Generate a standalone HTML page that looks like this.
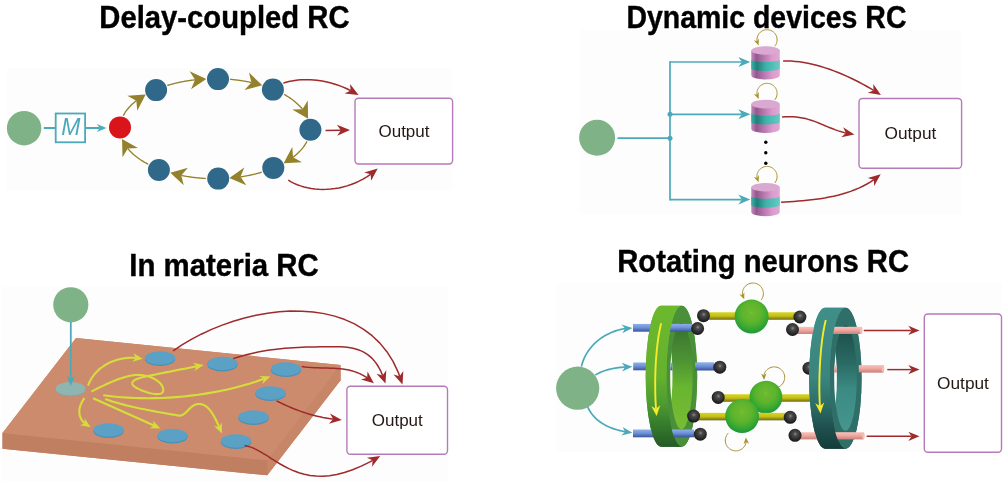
<!DOCTYPE html>
<html><head><meta charset="utf-8"><title>RC</title>
<style>
html,body{margin:0;padding:0;background:#fff;}
body{width:1008px;height:486px;overflow:hidden;}
svg{display:block;will-change:transform;transform:translateZ(0);}
text{font-family:"Liberation Sans",sans-serif;}
.t{font-weight:bold;font-size:31px;fill:#000;stroke:#000;stroke-width:0.4px;}
.o{font-size:17.3px;fill:#231815;}
</style></head><body>
<svg width="1008" height="486" viewBox="0 0 1008 486">
<defs>
<linearGradient id="cylP" x1="0" x2="1" y1="0" y2="0">
<stop offset="0" stop-color="#c68abf"/><stop offset="0.18" stop-color="#93598c"/><stop offset="0.45" stop-color="#b878b0"/><stop offset="0.75" stop-color="#dc9ccd"/><stop offset="1" stop-color="#e2a6d4"/></linearGradient>
<linearGradient id="cylT" x1="0" x2="1" y1="0" y2="0">
<stop offset="0" stop-color="#3bb3aa"/><stop offset="0.2" stop-color="#1f7f78"/><stop offset="0.5" stop-color="#3fb0a8"/><stop offset="0.8" stop-color="#55c2ba"/><stop offset="1" stop-color="#6cc8c2"/></linearGradient>
<linearGradient id="gOut" x1="0" x2="0" y1="0" y2="1">
<stop offset="0" stop-color="#6cb82e"/><stop offset="0.5" stop-color="#65b12e"/><stop offset="0.7" stop-color="#4d9a30"/><stop offset="0.85" stop-color="#347a2c"/><stop offset="1" stop-color="#255a26"/></linearGradient>
<linearGradient id="gIn" x1="0" x2="0" y1="0" y2="1">
<stop offset="0" stop-color="#36702e"/><stop offset="0.35" stop-color="#4d9334"/><stop offset="0.6" stop-color="#68b530"/><stop offset="1" stop-color="#78bc34"/></linearGradient>
<linearGradient id="tOut" x1="0" x2="0" y1="0" y2="1">
<stop offset="0" stop-color="#3f8f88"/><stop offset="0.5" stop-color="#3a857e"/><stop offset="0.7" stop-color="#2c6b66"/><stop offset="0.85" stop-color="#1f504d"/><stop offset="1" stop-color="#143c3a"/></linearGradient>
<linearGradient id="tIn" x1="0" x2="0" y1="0" y2="1">
<stop offset="0" stop-color="#1c4c48"/><stop offset="0.35" stop-color="#2a6963"/><stop offset="0.6" stop-color="#3b8a83"/><stop offset="1" stop-color="#45968e"/></linearGradient>
<linearGradient id="rodB" x1="0" x2="0" y1="0" y2="1">
<stop offset="0" stop-color="#8fb0e6"/><stop offset="0.45" stop-color="#6f93da"/><stop offset="1" stop-color="#3a549c"/></linearGradient>
<linearGradient id="rodP" x1="0" x2="0" y1="0" y2="1">
<stop offset="0" stop-color="#f8c4bc"/><stop offset="0.45" stop-color="#f0a8a0"/><stop offset="1" stop-color="#c9807a"/></linearGradient>
<linearGradient id="rodY" x1="0" x2="0" y1="0" y2="1">
<stop offset="0" stop-color="#d8d422"/><stop offset="0.5" stop-color="#c4c018"/><stop offset="1" stop-color="#6f6a10"/></linearGradient>
<radialGradient id="sphK" cx="0.52" cy="0.4" r="0.62">
<stop offset="0" stop-color="#8a8a8a"/><stop offset="0.25" stop-color="#4a4a4a"/><stop offset="0.7" stop-color="#2a2a2a"/><stop offset="1" stop-color="#101010"/></radialGradient>
<radialGradient id="sphG" cx="0.5" cy="0.38" r="0.66">
<stop offset="0" stop-color="#7cc23a"/><stop offset="0.08" stop-color="#6cb92f"/><stop offset="0.45" stop-color="#5db42d"/><stop offset="0.7" stop-color="#3aa931"/><stop offset="0.9" stop-color="#209a38"/><stop offset="1" stop-color="#17883a"/></radialGradient>
</defs>

<rect x="7.0" y="68.0" width="445.6" height="122.4" fill="#fdfdfd"/>
<rect x="579.6" y="29.6" width="382.0" height="184.9" fill="#fdfdfd"/>
<rect x="2.0" y="286.4" width="445.8" height="194.6" fill="#fdfdfd"/>
<rect x="556.3" y="282.9" width="445.7" height="169.0" fill="#fdfdfd"/>
<text class="t" x="99.3" y="27.9" textLength="250.3" lengthAdjust="spacingAndGlyphs">Delay-coupled RC</text>
<text class="t" x="626.4" y="27.9" textLength="280.1" lengthAdjust="spacingAndGlyphs">Dynamic devices RC</text>
<text class="t" x="129.3" y="275.9" textLength="189.5" lengthAdjust="spacingAndGlyphs">In materia RC</text>
<text class="t" x="617.3" y="272.0" textLength="291.7" lengthAdjust="spacingAndGlyphs">Rotating neurons RC</text>
<g id="tl">
<circle cx="24.1" cy="128.2" r="17.2" fill="#7fb387"/>
<line x1="43.8" y1="128" x2="55" y2="128" stroke="#4ba9ba" stroke-width="2"/>
<rect x="55.7" y="113.5" width="29.4" height="28.8" fill="#fff" stroke="#4ba9ba" stroke-width="1.8"/>
<text x="70.8" y="135.3" text-anchor="middle" style="font-size:23px;font-style:italic;fill:#4ba9ba">M</text>
<polyline points="86.00,128.00 99.75,128.00" fill="none" stroke="#4ba9ba" stroke-width="2" stroke-linejoin="round"/>
<polygon points="106.40,128.00 96.90,132.00 99.75,128.00 96.90,124.00" fill="#4ba9ba"/>
<polyline points="123.31,115.62 123.58,115.09 123.87,114.57 124.17,114.05 124.47,113.54 124.79,113.02 125.12,112.50 125.46,111.99 125.81,111.48 126.17,110.97 126.54,110.47 126.92,109.96 127.31,109.46 127.72,108.96 128.13,108.46 128.55,107.97 128.98,107.48 129.43,106.99 129.88,106.50 130.34,106.01 130.81,105.53 131.30,105.05 131.79,104.58 132.29,104.10 132.80,103.63 133.33,103.16 133.86,102.70 134.40,102.24 134.95,101.78 135.51,101.32 136.08,100.87 136.35,100.66" fill="none" stroke="#93822b" stroke-width="1.35" stroke-linejoin="round"/>
<polygon points="145.69,94.51 137.28,110.82 136.34,100.67 127.38,95.79" fill="#93822b"/>
<polyline points="167.30,85.46 168.02,85.24 168.76,85.02 169.49,84.81 170.23,84.60 170.98,84.39 171.73,84.19 172.48,83.99 173.23,83.79 173.99,83.60 174.75,83.41 175.51,83.22 176.28,83.04 177.05,82.86 177.82,82.69 178.60,82.52 179.38,82.35 180.16,82.18 180.94,82.02 181.73,81.87 182.52,81.71 183.31,81.56 184.10,81.42 184.90,81.28 185.70,81.14 186.50,81.00 187.30,80.87 188.11,80.74 188.92,80.62 189.73,80.50 190.54,80.39 191.35,80.27 192.17,80.17 192.99,80.06 193.81,79.96 194.63,79.86 195.10,79.81" fill="none" stroke="#93822b" stroke-width="1.35" stroke-linejoin="round"/>
<polygon points="206.26,78.91 191.03,89.17 195.09,79.81 189.59,71.22" fill="#93822b"/>
<polyline points="229.94,79.32 230.67,79.39 231.41,79.45 232.15,79.52 232.88,79.59 233.62,79.67 234.35,79.75 235.08,79.83 235.81,79.91 236.54,80.00 237.27,80.09 238.00,80.19 238.72,80.28 239.45,80.38 240.17,80.49 240.89,80.59 241.61,80.70 242.33,80.81 243.04,80.93 243.76,81.05 244.47,81.17 245.18,81.29 245.89,81.42 246.60,81.55 247.30,81.68 248.00,81.81 248.70,81.95 249.40,82.09 250.10,82.24 250.79,82.38 251.38,82.51" fill="none" stroke="#93822b" stroke-width="1.35" stroke-linejoin="round"/>
<polygon points="262.22,85.32 244.48,90.02 251.38,82.51 248.99,72.60" fill="#93822b"/>
<polyline points="284.02,94.34 284.78,94.77 285.52,95.20 286.26,95.63 286.98,96.07 287.70,96.51 288.41,96.96 289.10,97.41 289.79,97.87 290.47,98.33 291.13,98.79 291.79,99.26 292.43,99.73 293.07,100.21 293.69,100.69 294.31,101.17 294.91,101.66 295.50,102.15 296.08,102.65 296.65,103.14 297.21,103.65 297.76,104.15 298.30,104.66 298.82,105.17 299.34,105.69 299.84,106.20 300.33,106.72 300.81,107.25 301.28,107.78 301.74,108.30 302.18,108.84 302.47,109.19" fill="none" stroke="#93822b" stroke-width="1.35" stroke-linejoin="round"/>
<polygon points="308.12,118.81 292.26,109.58 302.45,109.15 307.77,100.46" fill="#93822b"/>
<polyline points="306.95,141.27 306.68,141.81 306.40,142.34 306.11,142.87 305.80,143.40 305.49,143.93 305.16,144.45 304.83,144.98 304.48,145.50 304.12,146.02 303.75,146.54 303.37,147.05 302.98,147.56 302.58,148.08 302.16,148.58 301.74,149.09 301.31,149.59 300.86,150.09 300.41,150.59 299.94,151.09 299.47,151.58 298.98,152.07 298.49,152.56 297.98,153.04 297.46,153.53 296.94,154.00 296.40,154.48 295.85,154.95 295.30,155.42 294.73,155.89 294.15,156.35 293.57,156.81 293.07,157.19" fill="none" stroke="#93822b" stroke-width="1.35" stroke-linejoin="round"/>
<polygon points="283.67,163.25 292.24,147.02 293.08,157.18 301.99,162.14" fill="#93822b"/>
<polyline points="261.74,172.23 261.09,172.42 260.43,172.61 259.77,172.80 259.11,172.98 258.45,173.16 257.78,173.34 257.11,173.52 256.44,173.69 255.76,173.86 255.09,174.03 254.41,174.20 253.73,174.36 253.04,174.52 252.35,174.67 251.66,174.83 250.97,174.98 250.28,175.12 249.58,175.27 248.88,175.41 248.18,175.55 247.48,175.69 246.78,175.82 246.07,175.95 245.36,176.08 244.65,176.20 243.94,176.32 243.22,176.44 242.51,176.56 241.79,176.67 241.07,176.78 240.51,176.86" fill="none" stroke="#93822b" stroke-width="1.35" stroke-linejoin="round"/>
<polygon points="229.38,178.12 244.26,167.38 240.51,176.86 246.29,185.27" fill="#93822b"/>
<polyline points="205.79,178.46 205.01,178.42 204.24,178.38 203.47,178.33 202.70,178.28 201.93,178.22 201.16,178.17 200.39,178.11 199.62,178.04 198.86,177.97 198.09,177.90 197.33,177.83 196.56,177.75 195.80,177.67 195.04,177.58 194.28,177.50 193.52,177.41 192.77,177.31 192.01,177.21 191.26,177.11 190.51,177.01 189.76,176.90 189.01,176.79 188.26,176.68 187.52,176.56 186.78,176.44 186.04,176.32 185.30,176.19 184.56,176.06 183.82,175.93 183.09,175.80 182.36,175.66 181.63,175.51 181.20,175.43" fill="none" stroke="#93822b" stroke-width="1.35" stroke-linejoin="round"/>
<polygon points="170.31,172.82 187.96,167.79 181.20,175.43 183.77,185.30" fill="#93822b"/>
<polyline points="148.24,164.27 147.42,163.84 146.61,163.40 145.81,162.96 145.02,162.51 144.24,162.06 143.47,161.61 142.71,161.14 141.97,160.68 141.23,160.21 140.51,159.73 139.79,159.25 139.09,158.76 138.40,158.27 137.72,157.78 137.05,157.28 136.39,156.78 135.75,156.27 135.12,155.76 134.49,155.25 133.89,154.73 133.29,154.20 132.70,153.68 132.13,153.15 131.57,152.61 131.02,152.08 130.49,151.53 129.96,150.99 129.45,150.44 128.95,149.89 128.47,149.34 128.00,148.78 127.75,148.48" fill="none" stroke="#93822b" stroke-width="1.35" stroke-linejoin="round"/>
<polygon points="122.01,138.92 137.96,148.00 127.78,148.52 122.53,157.27" fill="#93822b"/>
<circle cx="120.0" cy="127.4" r="11" fill="#d9141a"/>
<circle cx="156.1" cy="90.1" r="11" fill="#2f6888"/>
<circle cx="218.0" cy="79.1" r="11" fill="#2f6888"/>
<circle cx="272.9" cy="89.6" r="11" fill="#2f6888"/>
<circle cx="310.4" cy="129.8" r="11" fill="#2f6888"/>
<circle cx="273.3" cy="167.9" r="11" fill="#2f6888"/>
<circle cx="218.2" cy="178.6" r="11" fill="#2f6888"/>
<circle cx="158.9" cy="170.0" r="11" fill="#2f6888"/>
<polyline points="283.30,83.10 286.05,82.27 288.89,81.56 291.80,80.96 294.77,80.48 297.81,80.11 300.90,79.86 304.04,79.72 307.22,79.70 310.44,79.80 313.68,80.01 316.95,80.33 320.24,80.78 323.53,81.33 326.83,82.01 330.13,82.80 333.41,83.70 336.68,84.72 339.93,85.86 343.15,87.11 346.33,88.47 349.48,89.96 350.70,90.59" fill="none" stroke="#9e2a2b" stroke-width="1.5" stroke-linejoin="round"/>
<polygon points="358.60,95.10 344.61,93.39 350.70,90.59 350.01,83.92" fill="#9e2a2b"/>
<polyline points="325.50,130.60 340.90,130.16" fill="none" stroke="#9e2a2b" stroke-width="1.5" stroke-linejoin="round"/>
<polygon points="350.00,129.90 337.16,135.72 340.90,130.16 336.85,124.82" fill="#9e2a2b"/>
<polyline points="288.30,180.20 291.11,181.85 294.09,183.36 297.24,184.71 300.53,185.90 303.97,186.92 307.53,187.78 311.20,188.46 314.97,188.96 318.82,189.28 322.74,189.41 326.72,189.34 330.75,189.08 334.81,188.60 338.88,187.92 342.96,187.02 347.03,185.90 351.08,184.56 355.10,182.98 359.06,181.17 362.97,179.12 366.80,176.82 370.54,174.27 370.67,174.17" fill="none" stroke="#9e2a2b" stroke-width="1.5" stroke-linejoin="round"/>
<polygon points="377.70,168.40 371.11,180.86 370.67,174.17 364.19,172.44" fill="#9e2a2b"/>
<rect x="355.0" y="98.2" width="97.6" height="65.8" rx="3.5" fill="#fff" stroke="#b57ab8" stroke-width="1.4"/>
<text class="o" x="404.0" y="136.9" text-anchor="middle" style="font-size:17.0px">Output</text>
</g>
<g id="tr">
<circle cx="597.1" cy="137.7" r="18" fill="#7fb387"/>
<line x1="617.5" y1="138.2" x2="670" y2="138.2" stroke="#4ba9ba" stroke-width="1.7"/>
<line x1="670" y1="61.2" x2="670" y2="200.5" stroke="#4ba9ba" stroke-width="1.7"/>
<polyline points="670.00,62.00 741.90,62.00" fill="none" stroke="#4ba9ba" stroke-width="1.7" stroke-linejoin="round"/>
<polygon points="750.30,62.00 738.30,67.00 741.90,62.00 738.30,57.00" fill="#4ba9ba"/>
<polyline points="670.00,114.30 741.90,114.30" fill="none" stroke="#4ba9ba" stroke-width="1.7" stroke-linejoin="round"/>
<polygon points="750.30,114.30 738.30,119.30 741.90,114.30 738.30,109.30" fill="#4ba9ba"/>
<polyline points="670.00,199.60 741.90,199.60" fill="none" stroke="#4ba9ba" stroke-width="1.7" stroke-linejoin="round"/>
<polygon points="750.30,199.60 738.30,204.60 741.90,199.60 738.30,194.60" fill="#4ba9ba"/>
<circle cx="670" cy="114.3" r="2.5" fill="#4ba9ba"/>
<circle cx="670" cy="138.2" r="2.5" fill="#4ba9ba"/>
<polyline points="774.74,46.29 775.41,45.40 775.98,44.43 776.43,43.41 776.77,42.35 777.00,41.25 777.09,40.13 777.07,39.02 776.92,37.91 776.65,36.82 776.26,35.77 775.76,34.77 775.15,33.83 774.44,32.97 773.64,32.19 772.76,31.50 771.80,30.92 770.79,30.44 769.73,30.08 768.64,29.83 767.53,29.71 766.41,29.72 765.30,29.84 764.21,30.09 763.15,30.46 762.14,30.95 761.19,31.54 760.31,32.23 759.52,33.02 758.81,33.88 758.21,34.83 757.71,35.83 757.33,36.88 757.07,37.97 756.93,39.08 756.91,40.20 757.01,41.24" fill="none" stroke="#a8912f" stroke-width="1.0" stroke-linejoin="round"/>
<polygon points="758.63,45.45 753.73,40.37 756.99,41.20 758.86,38.39" fill="#a8912f"/>
<path d="M751.25,50.50 L751.25,75.20 A14.25,4.30 0 0 0 779.75,75.20 L779.75,50.50 Z" fill="url(#cylP)"/>
<path d="M751.25,59.50 A14.25,2.58 0 0 0 779.75,59.50 L779.75,68.40 A14.25,2.58 0 0 1 751.25,68.40 Z" fill="url(#cylT)"/>
<ellipse cx="765.50" cy="50.50" rx="14.25" ry="4.30" fill="#d9a9d1"/>
<polyline points="774.74,99.89 775.41,99.00 775.98,98.03 776.43,97.01 776.77,95.95 777.00,94.85 777.09,93.73 777.07,92.62 776.92,91.51 776.65,90.42 776.26,89.37 775.76,88.37 775.15,87.43 774.44,86.57 773.64,85.79 772.76,85.10 771.80,84.52 770.79,84.04 769.73,83.68 768.64,83.43 767.53,83.31 766.41,83.32 765.30,83.44 764.21,83.69 763.15,84.06 762.14,84.55 761.19,85.14 760.31,85.83 759.52,86.62 758.81,87.48 758.21,88.43 757.71,89.43 757.33,90.48 757.07,91.57 756.93,92.68 756.91,93.80 757.01,94.84" fill="none" stroke="#a8912f" stroke-width="1.0" stroke-linejoin="round"/>
<polygon points="758.63,99.05 753.73,93.97 756.99,94.80 758.86,91.99" fill="#a8912f"/>
<path d="M751.25,104.10 L751.25,128.80 A14.25,4.30 0 0 0 779.75,128.80 L779.75,104.10 Z" fill="url(#cylP)"/>
<path d="M751.25,113.10 A14.25,2.58 0 0 0 779.75,113.10 L779.75,122.00 A14.25,2.58 0 0 1 751.25,122.00 Z" fill="url(#cylT)"/>
<ellipse cx="765.50" cy="104.10" rx="14.25" ry="4.30" fill="#d9a9d1"/>
<polyline points="774.74,182.99 775.41,182.10 775.98,181.13 776.43,180.11 776.77,179.05 777.00,177.95 777.09,176.83 777.07,175.72 776.92,174.61 776.65,173.52 776.26,172.47 775.76,171.47 775.15,170.53 774.44,169.67 773.64,168.89 772.76,168.20 771.80,167.62 770.79,167.14 769.73,166.78 768.64,166.53 767.53,166.41 766.41,166.42 765.30,166.54 764.21,166.79 763.15,167.16 762.14,167.65 761.19,168.24 760.31,168.93 759.52,169.72 758.81,170.58 758.21,171.53 757.71,172.53 757.33,173.58 757.07,174.67 756.93,175.78 756.91,176.90 757.01,177.94" fill="none" stroke="#a8912f" stroke-width="1.0" stroke-linejoin="round"/>
<polygon points="758.63,182.15 753.73,177.07 756.99,177.90 758.86,175.09" fill="#a8912f"/>
<path d="M751.25,187.20 L751.25,211.90 A14.25,4.30 0 0 0 779.75,211.90 L779.75,187.20 Z" fill="url(#cylP)"/>
<path d="M751.25,196.20 A14.25,2.58 0 0 0 779.75,196.20 L779.75,205.10 A14.25,2.58 0 0 1 751.25,205.10 Z" fill="url(#cylT)"/>
<ellipse cx="765.50" cy="187.20" rx="14.25" ry="4.30" fill="#d9a9d1"/>
<circle cx="765.8" cy="142.2" r="1.7" fill="#000"/>
<circle cx="765.8" cy="152.7" r="1.7" fill="#000"/>
<circle cx="765.8" cy="163.3" r="1.7" fill="#000"/>
<polyline points="783.10,61.00 787.11,60.95 791.19,61.08 795.33,61.38 799.52,61.86 803.75,62.50 808.01,63.29 812.30,64.23 816.61,65.31 820.93,66.52 825.24,67.85 829.55,69.30 833.84,70.85 838.10,72.50 842.33,74.25 846.52,76.08 850.66,77.99 854.73,79.97 858.74,82.01 862.68,84.10 866.52,86.24 870.28,88.42 873.59,90.42" fill="none" stroke="#9e2a2b" stroke-width="1.5" stroke-linejoin="round"/>
<polygon points="880.90,95.10 867.68,92.75 873.59,90.42 873.24,84.08" fill="#9e2a2b"/>
<polyline points="782.10,117.10 785.87,116.79 789.47,116.68 792.92,116.75 796.22,116.99 799.39,117.39 802.45,117.92 805.41,118.58 808.29,119.35 811.09,120.21 813.84,121.15 816.55,122.16 819.22,123.23 821.89,124.32 824.55,125.44 827.23,126.57 829.94,127.69 832.70,128.78 835.51,129.84 838.39,130.85 841.36,131.79 844.44,132.65 845.87,133.00" fill="none" stroke="#9e2a2b" stroke-width="1.5" stroke-linejoin="round"/>
<polygon points="854.40,134.60 841.26,137.37 845.87,132.99 843.17,127.25" fill="#9e2a2b"/>
<polyline points="781.10,202.20 785.28,201.97 789.53,201.71 793.84,201.43 798.19,201.11 802.57,200.74 806.98,200.32 811.42,199.83 815.86,199.28 820.30,198.65 824.73,197.93 829.14,197.11 833.52,196.20 837.87,195.17 842.18,194.03 846.43,192.76 850.61,191.36 854.72,189.81 858.75,188.11 862.69,186.25 866.53,184.23 870.26,182.03 873.87,179.65" fill="none" stroke="#9e2a2b" stroke-width="1.5" stroke-linejoin="round"/>
<polygon points="880.70,174.30 874.11,186.00 873.86,179.65 867.76,177.89" fill="#9e2a2b"/>
<rect x="859.0" y="98.5" width="102.6" height="69.8" rx="3.5" fill="#fff" stroke="#b57ab8" stroke-width="1.4"/>
<text class="o" x="910.4" y="138.6" text-anchor="middle" style="font-size:17.3px">Output</text>
</g>
<g id="bl">
<polygon points="76,338 340.5,365 340.6,380.3 267.3,475.3 2.5,448.8 2.5,433" fill="#c48264"/>
<polygon points="267.3,460.3 340.5,365 340.6,380.3 267.3,475.3" fill="#c88668"/>
<polygon points="2.5,433 267.3,460.3 267.3,475.3 2.5,448.8" fill="#c17f62"/>
<polygon points="76,338 340.5,365 267.3,460.3 2.5,433" fill="#cd8b6d"/>
<circle cx="70.8" cy="304.8" r="17.6" fill="#7fb387"/>
<ellipse cx="70.6" cy="389.8" rx="15" ry="6.8" fill="#7fa7a3"/>
<ellipse cx="70.6" cy="388.8" rx="15" ry="6.8" fill="#8fb5b0"/>
<polyline points="70.80,322.00 70.80,379.00" fill="none" stroke="#4ba9ba" stroke-width="1.8" stroke-linejoin="round"/>
<polygon points="70.80,386.00 66.80,376.00 70.80,379.00 74.80,376.00" fill="#4ba9ba"/>
<ellipse cx="160.0" cy="359.3" rx="15.2" ry="6.7" fill="#4a8fb6"/>
<ellipse cx="160.0" cy="358.0" rx="15.2" ry="6.7" fill="#5ba0c5"/>
<ellipse cx="222.5" cy="364.8" rx="15.2" ry="6.7" fill="#4a8fb6"/>
<ellipse cx="222.5" cy="363.5" rx="15.2" ry="6.7" fill="#5ba0c5"/>
<ellipse cx="286.0" cy="370.3" rx="15.2" ry="6.7" fill="#4a8fb6"/>
<ellipse cx="286.0" cy="369.0" rx="15.2" ry="6.7" fill="#5ba0c5"/>
<ellipse cx="270.5" cy="394.3" rx="15.2" ry="6.7" fill="#4a8fb6"/>
<ellipse cx="270.5" cy="393.0" rx="15.2" ry="6.7" fill="#5ba0c5"/>
<ellipse cx="253.5" cy="418.3" rx="15.2" ry="6.7" fill="#4a8fb6"/>
<ellipse cx="253.5" cy="417.0" rx="15.2" ry="6.7" fill="#5ba0c5"/>
<ellipse cx="236.0" cy="442.3" rx="15.2" ry="6.7" fill="#4a8fb6"/>
<ellipse cx="236.0" cy="441.0" rx="15.2" ry="6.7" fill="#5ba0c5"/>
<ellipse cx="172.5" cy="436.8" rx="15.2" ry="6.7" fill="#4a8fb6"/>
<ellipse cx="172.5" cy="435.5" rx="15.2" ry="6.7" fill="#5ba0c5"/>
<ellipse cx="108.5" cy="431.3" rx="15.2" ry="6.7" fill="#4a8fb6"/>
<ellipse cx="108.5" cy="430.0" rx="15.2" ry="6.7" fill="#5ba0c5"/>
<polyline points="88.00,385.70 88.96,383.28 90.08,380.94 91.35,378.69 92.77,376.53 94.33,374.47 96.03,372.51 97.86,370.65 99.81,368.90 101.88,367.27 104.06,365.74 106.34,364.34 108.72,363.06 111.20,361.91 113.76,360.89 116.41,360.01 119.13,359.26 121.91,358.66 124.76,358.21 127.66,357.91 130.62,357.76 133.61,357.77 135.86,357.90" fill="none" stroke="#d6dd3a" stroke-width="2.1" stroke-linejoin="round"/>
<polygon points="142.80,358.80 132.34,361.73 135.86,357.90 133.43,353.30" fill="#d6dd3a"/>
<polyline points="91.40,391.50 93.72,390.32 96.03,389.16 98.34,388.02 100.63,386.91 102.90,385.83 105.15,384.77 107.39,383.76 109.60,382.78 111.79,381.84 113.95,380.95 116.08,380.10 118.17,379.31 120.24,378.57 122.27,377.89 124.25,377.28 126.20,376.72 128.10,376.24 129.96,375.82 131.77,375.48 133.53,375.22 135.23,375.03 136.88,374.93 138.47,374.92 140.00,375.00 141.85,375.17 143.64,375.41 145.38,375.73 147.05,376.12 148.66,376.57 150.20,377.09 151.68,377.66 153.07,378.28 154.40,378.95 155.64,379.66 156.80,380.41 157.88,381.19 158.86,382.00 159.76,382.83 160.56,383.69 161.26,384.56 161.86,385.44 162.36,386.32 162.75,387.21 163.03,388.09 163.20,388.97 163.25,389.83 163.19,390.68 163.00,391.50 162.68,392.14 162.22,392.68 161.63,393.13 160.93,393.49 160.11,393.77 159.19,393.96 158.17,394.07 157.07,394.11 155.90,394.08 154.66,393.97 153.35,393.80 152.00,393.56 150.61,393.27 149.18,392.92 147.73,392.51 146.26,392.06 144.79,391.55 143.31,391.01 141.85,390.42 140.41,389.80 138.99,389.14 137.61,388.45 136.28,387.74 135.00,387.00 134.20,386.38 133.54,385.78 133.02,385.19 132.63,384.62 132.38,384.07 132.25,383.52 132.25,383.00 132.37,382.48 132.61,381.98 132.96,381.50 133.43,381.02 134.00,380.56 134.68,380.12 135.45,379.68 136.33,379.26 137.30,378.85 138.35,378.46 139.50,378.07 140.73,377.70 142.04,377.34 143.42,376.99 144.88,376.65 146.41,376.32 148.00,376.00 150.14,375.56 152.31,375.12 154.51,374.67 156.73,374.21 158.98,373.76 161.24,373.30 163.53,372.84 165.84,372.37 168.16,371.91 170.49,371.44 172.84,370.98 175.20,370.51 177.57,370.05 179.94,369.58 182.32,369.12 184.70,368.66 187.08,368.20 189.46,367.75 191.83,367.29 194.20,366.84 196.57,366.40 196.72,366.37" fill="none" stroke="#d6dd3a" stroke-width="2.1" stroke-linejoin="round"/>
<polygon points="203.60,365.10 194.54,371.10 196.72,366.37 192.99,362.74" fill="#d6dd3a"/>
<polyline points="103.20,395.20 109.14,395.99 115.26,396.67 121.55,397.23 127.99,397.67 134.57,397.98 141.28,398.17 148.10,398.23 155.03,398.15 162.06,397.94 169.16,397.58 176.33,397.09 183.56,396.45 190.84,395.66 198.14,394.73 205.47,393.63 212.80,392.39 220.13,390.98 227.44,389.41 234.73,387.67 241.97,385.76 249.16,383.69 256.29,381.44 263.34,379.01 263.75,378.86" fill="none" stroke="#d6dd3a" stroke-width="2.1" stroke-linejoin="round"/>
<polygon points="270.30,376.40 262.43,383.89 263.75,378.86 259.44,375.93" fill="#d6dd3a"/>
<polyline points="105.20,399.00 108.33,400.10 111.50,401.15 114.71,402.15 117.95,403.10 121.22,404.01 124.51,404.88 127.80,405.71 131.10,406.50 134.39,407.25 137.66,407.97 140.92,408.66 144.15,409.31 147.34,409.94 150.49,410.54 153.59,411.11 156.64,411.67 159.61,412.20 162.52,412.71 165.34,413.21 168.08,413.69 170.72,414.16 173.26,414.61 175.69,415.06 178.00,415.50 178.97,415.62 179.90,415.61 180.79,415.48 181.63,415.24 182.45,414.90 183.23,414.48 184.00,413.98 184.74,413.41 185.47,412.78 186.19,412.12 186.91,411.41 187.62,410.69 188.35,409.95 189.08,409.21 189.83,408.47 190.59,407.76 191.38,407.07 192.20,406.43 193.06,405.84 193.95,405.30 194.88,404.84 195.87,404.46 196.91,404.18 198.00,404.00 199.47,403.97 200.88,404.11 202.23,404.43 203.53,404.90 204.77,405.52 205.97,406.29 207.12,407.18 208.22,408.20 209.28,409.33 210.30,410.56 211.29,411.89 212.24,413.30 213.16,414.79 214.05,416.34 214.91,417.95 215.75,419.60 216.57,421.29 217.36,423.01 218.15,424.75 218.91,426.50 219.12,426.98" fill="none" stroke="#d6dd3a" stroke-width="2.1" stroke-linejoin="round"/>
<polygon points="221.90,433.40 214.03,425.91 219.12,426.98 221.83,422.53" fill="#d6dd3a"/>
<polyline points="93.10,398.20 154.01,425.53" fill="none" stroke="#d6dd3a" stroke-width="2.1" stroke-linejoin="round"/>
<polygon points="160.40,428.40 149.54,428.18 154.01,425.53 153.02,420.43" fill="#d6dd3a"/>
<polyline points="84.30,398.20 83.32,399.67 82.44,401.13 81.67,402.58 81.01,404.02 80.46,405.44 80.01,406.84 79.67,408.22 79.44,409.59 79.32,410.93 79.31,412.25 79.41,413.55 79.61,414.81 79.93,416.05 80.35,417.26 80.88,418.44 81.52,419.58 82.27,420.68 83.13,421.75 84.10,422.79 84.80,423.42" fill="none" stroke="#d6dd3a" stroke-width="2.1" stroke-linejoin="round"/>
<polygon points="90.60,427.30 79.92,425.28 84.78,423.41 84.65,418.21" fill="#d6dd3a"/>
<polyline points="173.20,350.90 181.95,344.98 191.30,339.40 201.19,334.20 211.53,329.42 222.25,325.10 233.29,321.28 244.56,318.00 256.00,315.30 267.54,313.23 279.10,311.82 290.60,311.11 301.99,311.15 313.17,311.97 324.09,313.63 334.67,316.14 344.83,319.57 354.50,323.94 363.62,329.30 372.10,335.69 379.88,343.15 386.88,351.72 393.04,361.44 398.27,372.35 399.64,376.30" fill="none" stroke="#9e2a2b" stroke-width="1.5" stroke-linejoin="round"/>
<polygon points="402.50,384.50 393.51,374.50 399.64,376.30 403.33,371.08" fill="#9e2a2b"/>
<polyline points="233.10,358.60 237.52,357.21 241.91,355.93 246.28,354.76 250.62,353.69 254.94,352.72 259.25,351.85 263.54,351.06 267.82,350.36 272.09,349.74 276.37,349.20 280.64,348.72 284.91,348.31 289.19,347.96 293.49,347.67 297.79,347.43 302.11,347.24 306.46,347.09 310.82,346.97 315.22,346.89 319.64,346.83 324.10,346.80 328.59,346.79 333.12,346.79 337.70,346.80 341.05,346.86 344.25,347.03 347.30,347.33 350.21,347.74 352.98,348.28 355.62,348.94 358.13,349.72 360.51,350.63 362.78,351.67 364.93,352.83 366.98,354.13 368.91,355.56 370.75,357.13 372.48,358.83 374.13,360.66 375.69,362.64 377.16,364.75 378.55,367.01 379.87,369.41 381.12,371.95 382.30,374.64 382.61,375.42" fill="none" stroke="#9e2a2b" stroke-width="1.5" stroke-linejoin="round"/>
<polygon points="385.50,383.60 376.47,373.64 382.61,375.42 386.27,370.18" fill="#9e2a2b"/>
<polyline points="301.70,366.60 304.98,367.00 308.24,367.30 311.49,367.52 314.71,367.68 317.92,367.80 321.11,367.89 324.28,367.96 327.42,368.04 330.54,368.14 333.63,368.28 336.71,368.47 339.75,368.73 342.77,369.07 345.76,369.52 348.72,370.09 351.65,370.79 354.55,371.65 357.42,372.68 360.25,373.89 363.05,375.30 365.82,376.93 367.16,377.85" fill="none" stroke="#9e2a2b" stroke-width="1.5" stroke-linejoin="round"/>
<polygon points="373.90,383.30 360.99,379.54 367.15,377.84 367.53,371.46" fill="#9e2a2b"/>
<polyline points="276.50,400.90 278.82,402.03 281.16,403.15 283.52,404.25 285.90,405.34 288.31,406.40 290.74,407.44 293.20,408.46 295.70,409.45 298.22,410.41 300.79,411.34 303.39,412.24 306.04,413.10 308.73,413.92 311.46,414.71 314.24,415.45 317.07,416.15 319.95,416.80 322.89,417.41 325.89,417.96 328.94,418.46 332.06,418.91 333.16,419.05" fill="none" stroke="#9e2a2b" stroke-width="1.5" stroke-linejoin="round"/>
<polygon points="341.80,419.90 328.95,423.86 333.16,419.05 329.97,413.51" fill="#9e2a2b"/>
<polyline points="244.70,445.60 248.46,446.40 252.20,447.66 255.93,449.32 259.69,451.30 263.49,453.54 267.38,455.97 271.36,458.53 275.47,461.14 279.74,463.74 284.19,466.27 288.85,468.65 293.74,470.82 298.89,472.72 304.32,474.27 310.07,475.40 316.16,476.06 322.61,476.17 329.45,475.67 336.72,474.48 344.42,472.55 352.59,469.80 361.26,466.17 370.46,461.59 372.67,460.32" fill="none" stroke="#9e2a2b" stroke-width="1.5" stroke-linejoin="round"/>
<polygon points="380.20,456.00 372.04,466.68 372.67,460.32 366.86,457.67" fill="#9e2a2b"/>
<rect x="346.9" y="386.2" width="100.6" height="68.1" rx="3.5" fill="#fff" stroke="#b57ab8" stroke-width="1.4"/>
<text class="o" x="397.3" y="425.6" text-anchor="middle" style="font-size:17.0px">Output</text>
</g>
<g id="br">
<circle cx="577.7" cy="388.2" r="21.6" fill="#7fb387"/>
<polyline points="581.40,366.50 582.16,363.63 583.10,360.86 584.21,358.17 585.48,355.59 586.89,353.10 588.45,350.71 590.15,348.43 591.98,346.25 593.92,344.18 595.98,342.22 598.15,340.38 600.41,338.65 602.77,337.04 605.20,335.55 607.71,334.19 610.29,332.95 612.93,331.84 615.61,330.87 618.35,330.02 621.12,329.31 623.91,328.75 625.09,328.57" fill="none" stroke="#4ba9ba" stroke-width="1.7" stroke-linejoin="round"/>
<polygon points="632.40,327.90 622.34,333.14 625.08,328.57 621.55,324.57" fill="#4ba9ba"/>
<polyline points="595.20,375.10 596.44,374.36 597.72,373.66 599.02,373.00 600.36,372.38 601.73,371.80 603.12,371.26 604.55,370.75 606.00,370.28 607.48,369.84 608.99,369.44 610.52,369.07 612.07,368.72 613.66,368.41 615.26,368.13 616.89,367.88 618.53,367.66 620.20,367.46 621.89,367.28 623.60,367.13 625.06,367.02" fill="none" stroke="#4ba9ba" stroke-width="1.7" stroke-linejoin="round"/>
<polygon points="632.40,366.70 622.10,371.46 625.06,367.02 621.72,362.86" fill="#4ba9ba"/>
<polyline points="587.70,406.90 588.72,409.03 589.86,411.05 591.11,412.96 592.47,414.76 593.92,416.46 595.47,418.06 597.11,419.56 598.82,420.97 600.61,422.28 602.47,423.50 604.40,424.64 606.37,425.69 608.41,426.66 610.48,427.55 612.60,428.36 614.74,429.10 616.92,429.77 619.12,430.37 621.33,430.91 623.55,431.38 625.12,431.67" fill="none" stroke="#4ba9ba" stroke-width="1.7" stroke-linejoin="round"/>
<polygon points="632.40,432.70 621.40,435.49 625.12,431.67 622.60,426.97" fill="#4ba9ba"/>
<clipPath id="gf"><ellipse cx="681.40" cy="376.20" rx="11.20" ry="53.00"/></clipPath>
<clipPath id="gb"><ellipse cx="661.30" cy="376.20" rx="11.20" ry="53.00"/></clipPath>
<rect x="633.20" y="362.50" width="80.80" height="7.80" fill="url(#rodB)"/>
<path d="M661.10,305.70 A15.40,70.50 0 0 0 661.10,446.70 L681.80,446.70 A15.40,70.50 0 0 0 681.80,305.70 Z" fill="url(#gOut)"/>
<ellipse cx="681.80" cy="376.20" rx="15.40" ry="70.50" fill="#4a9038"/>
<ellipse cx="681.40" cy="376.20" rx="11.20" ry="53.00" fill="url(#gIn)"/>
<g clip-path="url(#gf)"><g clip-path="url(#gb)"><rect x="621.1" y="305.7" width="80" height="141.0" fill="#fdfdfd"/>
<rect x="633.20" y="362.50" width="80.80" height="7.80" fill="url(#rodB)"/>
</g></g>
<rect x="633.00" y="323.90" width="59.00" height="7.80" fill="url(#rodB)"/>
<rect x="633.00" y="429.50" width="61.00" height="7.80" fill="url(#rodB)"/>
<path d="M661.10,305.70 A15.40,70.50 0 0 0 661.10,446.70 L681.80,446.70 A15.40,70.50 0 0 1 681.80,305.70 Z" fill="url(#gOut)"/>
<rect x="695.00" y="362.50" width="19.00" height="7.80" fill="url(#rodB)"/>
<polyline points="661.20,323.20 660.51,326.02 659.85,329.01 659.24,332.17 658.67,335.49 658.14,338.95 657.65,342.54 657.21,346.24 656.81,350.06 656.45,353.97 656.13,357.96 655.86,362.03 655.64,366.15 655.46,370.32 655.32,374.53 655.23,378.76 655.19,383.01 655.20,387.25 655.25,391.49 655.35,395.70 655.50,399.88 655.70,404.01 655.95,408.08 656.00,408.68" fill="none" stroke="#f6ea2c" stroke-width="1.9" stroke-linejoin="round"/>
<polygon points="656.60,416.00 651.25,405.91 656.00,408.67 660.22,405.17" fill="#f6ea2c"/>
<rect x="718.00" y="394.25" width="94.00" height="7.50" fill="url(#rodY)"/>
<clipPath id="tf"><ellipse cx="845.50" cy="378.15" rx="11.30" ry="52.60"/></clipPath>
<clipPath id="tb"><ellipse cx="825.60" cy="378.15" rx="11.30" ry="52.60"/></clipPath>
<circle cx="809.00" cy="368.20" r="6.50" fill="url(#sphK)"/>
<rect x="812.00" y="365.20" width="72.00" height="7.20" fill="url(#rodP)"/>
<path d="M825.10,307.65 A16.00,70.50 0 0 0 825.10,448.65 L845.60,448.65 A16.00,70.50 0 0 0 845.60,307.65 Z" fill="url(#tOut)"/>
<ellipse cx="845.60" cy="378.15" rx="16.00" ry="70.50" fill="#2f6f68"/>
<ellipse cx="845.50" cy="378.15" rx="11.30" ry="52.60" fill="url(#tIn)"/>
<g clip-path="url(#tf)"><g clip-path="url(#tb)"><rect x="785.1" y="307.6" width="80" height="141.0" fill="#fdfdfd"/>
<rect x="812.00" y="365.20" width="72.00" height="7.20" fill="url(#rodP)"/>
</g></g>
<rect x="797.00" y="326.80" width="64.20" height="7.20" fill="url(#rodP)"/>
<ellipse cx="861.20" cy="330.40" rx="1.3" ry="3.60" fill="#f6bdb5"/>
<rect x="800.00" y="432.20" width="63.40" height="7.20" fill="url(#rodP)"/>
<ellipse cx="863.40" cy="435.80" rx="1.3" ry="3.60" fill="#f6bdb5"/>
<path d="M825.10,307.65 A16.00,70.50 0 0 0 825.10,448.65 L845.60,448.65 A16.00,70.50 0 0 1 845.60,307.65 Z" fill="url(#tOut)"/>
<rect x="858.80" y="365.20" width="24.20" height="7.20" fill="url(#rodP)"/>
<ellipse cx="883.00" cy="368.80" rx="1.3" ry="3.60" fill="#f6bdb5"/>
<polyline points="825.80,320.10 825.09,322.94 824.43,325.99 823.80,329.23 823.21,332.64 822.66,336.21 822.15,339.92 821.68,343.76 821.25,347.71 820.86,351.76 820.52,355.88 820.22,360.07 819.96,364.31 819.75,368.59 819.58,372.88 819.46,377.17 819.39,381.46 819.36,385.71 819.37,389.92 819.44,394.07 819.55,398.15 819.71,402.14 819.93,406.02 819.93,406.07" fill="none" stroke="#f6ea2c" stroke-width="1.9" stroke-linejoin="round"/>
<polygon points="820.50,413.40 815.20,403.28 819.93,406.07 824.17,402.58" fill="#f6ea2c"/>
<polyline points="863.80,330.40 911.66,330.40" fill="none" stroke="#9e2a2b" stroke-width="1.45" stroke-linejoin="round"/>
<polygon points="919.50,330.40 908.30,335.00 911.66,330.40 908.30,325.80" fill="#9e2a2b"/>
<polyline points="887.30,369.60 911.66,369.60" fill="none" stroke="#9e2a2b" stroke-width="1.45" stroke-linejoin="round"/>
<polygon points="919.50,369.60 908.30,374.20 911.66,369.60 908.30,365.00" fill="#9e2a2b"/>
<polyline points="866.60,436.30 911.66,436.30" fill="none" stroke="#9e2a2b" stroke-width="1.45" stroke-linejoin="round"/>
<polygon points="919.50,436.30 908.30,440.90 911.66,436.30 908.30,431.70" fill="#9e2a2b"/>
<rect x="924.3" y="314.0" width="77.2" height="138.2" rx="3.5" fill="#fff" stroke="#b57ab8" stroke-width="1.4"/>
<text class="o" x="963.0" y="389.4" text-anchor="middle" style="font-size:17.3px">Output</text>
<polyline points="760.94,300.25 761.64,299.32 762.23,298.32 762.71,297.25 763.06,296.15 763.29,295.01 763.39,293.85 763.37,292.69 763.21,291.53 762.93,290.40 762.53,289.31 762.01,288.27 761.37,287.30 760.64,286.40 759.80,285.59 758.88,284.87 757.89,284.26 756.84,283.77 755.74,283.39 754.61,283.14 753.45,283.01 752.29,283.02 751.13,283.15 750.00,283.41 748.90,283.79 747.85,284.29 746.86,284.91 745.95,285.63 745.12,286.45 744.39,287.35 743.76,288.33 743.25,289.37 742.85,290.47 742.57,291.60 742.43,292.75 742.41,293.91 742.52,295.07 742.54,295.17" fill="none" stroke="#a8912f" stroke-width="1.0" stroke-linejoin="round"/>
<polygon points="744.20,299.37 739.25,294.33 742.53,295.14 744.37,292.32" fill="#a8912f"/>
<rect x="703.50" y="312.25" width="96.50" height="7.50" fill="url(#rodY)"/>
<circle cx="703.50" cy="315.70" r="6.50" fill="url(#sphK)"/>
<circle cx="799.90" cy="317.00" r="6.50" fill="url(#sphK)"/>
<circle cx="751.60" cy="316.60" r="17.00" fill="url(#sphG)"/>
<circle cx="697.60" cy="328.50" r="6.50" fill="url(#sphK)"/>
<circle cx="719.80" cy="367.20" r="6.50" fill="url(#sphK)"/>
<circle cx="700.30" cy="434.20" r="6.50" fill="url(#sphK)"/>
<circle cx="792.50" cy="329.50" r="6.50" fill="url(#sphK)"/>
<circle cx="795.00" cy="435.30" r="6.50" fill="url(#sphK)"/>
<polyline points="777.44,387.39 778.58,386.94 779.65,386.37 780.66,385.68 781.57,384.88 782.39,383.97 783.09,382.98 783.68,381.91 784.14,380.78 784.46,379.61 784.65,378.41 784.70,377.19 784.60,375.97 784.37,374.78 784.00,373.62 783.49,372.51 782.86,371.47 782.12,370.50 781.27,369.63 780.32,368.87 779.29,368.22 778.19,367.69 777.04,367.29 775.85,367.03 774.64,366.91 773.42,366.93 772.21,367.09 771.03,367.39 769.90,367.82 768.82,368.39 767.81,369.07 766.89,369.87 766.06,370.76 765.35,371.75 764.75,372.81 764.29,373.94 763.95,375.11 763.90,375.43" fill="none" stroke="#a8912f" stroke-width="1.0" stroke-linejoin="round"/>
<polygon points="764.01,379.94 761.10,373.51 763.90,375.39 766.60,373.37" fill="#a8912f"/>
<polyline points="728.38,432.98 727.64,433.80 726.99,434.69 726.44,435.65 725.99,436.66 725.65,437.72 725.42,438.80 725.31,439.90 725.32,441.00 725.44,442.10 725.68,443.18 726.02,444.23 726.48,445.24 727.04,446.19 727.70,447.08 728.45,447.90 729.28,448.63 730.18,449.27 731.14,449.81 732.16,450.25 733.22,450.58 734.30,450.79 735.40,450.89 736.51,450.88 737.61,450.74 738.68,450.50 739.73,450.14 740.73,449.67 741.68,449.10 742.56,448.43 743.37,447.68 744.09,446.84 744.72,445.93 745.26,444.96 745.68,443.94 746.00,442.88 746.18,441.92" fill="none" stroke="#a8912f" stroke-width="1.0" stroke-linejoin="round"/>
<polygon points="745.87,437.42 749.07,443.71 746.19,441.96 743.58,444.09" fill="#a8912f"/>
<circle cx="718.20" cy="397.40" r="6.50" fill="url(#sphK)"/>
<circle cx="765.90" cy="397.20" r="16.40" fill="url(#sphG)"/>
<rect x="693.60" y="412.85" width="96.40" height="7.50" fill="url(#rodY)"/>
<circle cx="693.60" cy="416.10" r="6.50" fill="url(#sphK)"/>
<circle cx="790.20" cy="417.30" r="6.50" fill="url(#sphK)"/>
<circle cx="742.10" cy="416.20" r="16.90" fill="url(#sphG)"/>
</g>
</svg></body></html>
